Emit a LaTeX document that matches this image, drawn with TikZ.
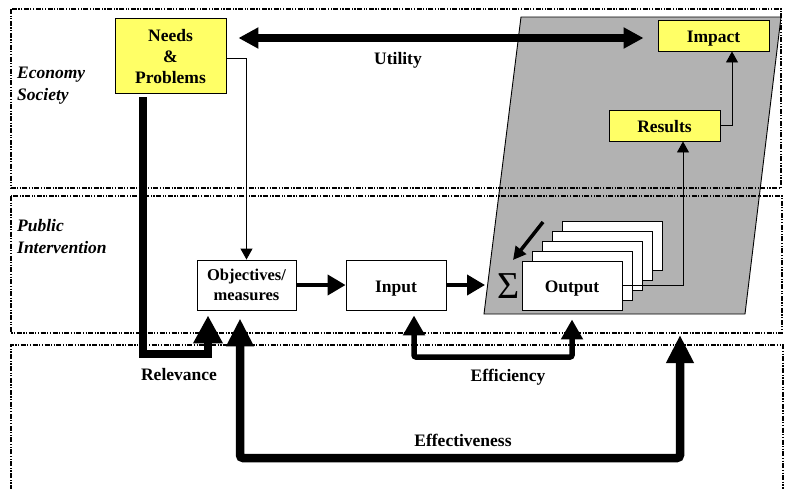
\documentclass[tikz,border=0pt]{standalone}
\usepackage{fontspec}
\setmainfont{Liberation Serif}
\usetikzlibrary{arrows.meta,calc}
\definecolor{yel}{RGB}{255,255,102}
\definecolor{pgray}{RGB}{178,178,178}
\tikzset{
  band/.style={line width=1.2pt, dash pattern=on 5pt off 1.5pt on 1.2pt off 1.5pt on 1.2pt off 1.5pt},
  boxbase/.style={draw, line width=0.9pt, inner sep=0pt, align=center, font=\bfseries\fontsize{17.5}{21}\selectfont},
  ybox/.style={boxbase, fill=yel},
  wbox/.style={boxbase, fill=white},
  oneline/.style={text height=14pt, text depth=0pt},
  lbl/.style={font=\bfseries\fontsize{17.5}{21}\selectfont, inner sep=0pt},
  ilbl/.style={font=\bfseries\itshape\fontsize{17.5}{22}\selectfont, align=left, anchor=west, inner sep=0pt},
  thinarrow/.style={line width=0.9pt, -{Triangle[length=11pt,width=12pt]}},
  midarrow/.style={line width=4pt, -{Triangle[length=18pt,width=20pt]}},
  bigarrow/.style={line width=8pt, -{Triangle[length=28pt,width=28pt]}},
}
\begin{document}
\begin{tikzpicture}[x=1pt,y=-1pt]
\useasboundingbox (0,0) rectangle (790,488);
% gray parallelogram
\draw[fill=pgray, line width=0.9pt] (521,17) -- (781,17) -- (745,314) -- (484,314) -- cycle;
% bands
\draw[band] (11,9) rectangle (781,188);
\draw[band] (11,196) rectangle (782,333);
\draw[band] (11,490) -- (11,345) -- (783,345) -- (783,490);
% band labels
\node[ilbl] (lecon) at (17,85.5) {Economy\\Society};
\node[ilbl] (lpub) at (17,237) {Public\\Intervention};
% nodes
\node[ybox, minimum width=111pt, minimum height=75pt] (needs) at (170.5,55.5) {\strut Needs\\\&\\Problems};
\node[ybox, oneline, minimum width=111pt, minimum height=31pt] (impact) at (713.5,35.5) {Impact};
\node[ybox, oneline, minimum width=111pt, minimum height=31pt] (results) at (664.5,125.5) {Results};
\node[wbox, minimum width=99pt, minimum height=50pt, font=\bfseries\fontsize{16.5}{20}\selectfont] (obj) at (246.5,285) {Objectives/\\measures};
\node[wbox, oneline, minimum width=100pt, minimum height=50pt] (input) at (396,285) {Input};
\node[wbox, minimum width=100pt, minimum height=49pt] (out5) at (612,245.5) {};
\node[wbox, minimum width=100pt, minimum height=49pt] (out4) at (602,255.5) {};
\node[wbox, minimum width=100pt, minimum height=49pt] (out3) at (592,265.5) {};
\node[wbox, minimum width=100pt, minimum height=49pt] (out2) at (582,275.5) {};
\node[wbox, oneline, minimum width=100pt, minimum height=49pt] (out1) at (572,285.5) {Output};
\node[inner sep=0pt, font=\fontsize{38}{38}\selectfont] (sigma) at (509,286) {Σ};
% labels
\node[lbl] (lutil) at (398,60.5) {Utility};
\node[lbl] (lrel) at (179,374.5) {Relevance};
\node[lbl] (leffi) at (508,377.5) {Efficiency};
\node[lbl] (leffe) at (463,440.5) {Effectiveness};
% coordinates
\coordinate (sgA) at (543,222);
\coordinate (sgB) at (513,260);
\coordinate (sgIn) at (485,285);
\coordinate (effR) at (680,335);
\coordinate (effY) at (0,458);
\coordinate (efiY) at (0,357);
% connectors
\draw[line width=8.5pt, {Triangle[length=20pt,width=20pt]}-{Triangle[length=20pt,width=20pt]}]
  ($(needs.east)+(12,-17.5)$) -- ($(impact.west)+(-14,2.5)$);
\draw[thinarrow] ($(needs.east)+(0,2.5)$) -| (obj.north);
\draw[thinarrow] (results.east) -| ($(impact.south)+(18.5,0)$);
\draw[thinarrow] (out1.east) -| ($(results.south)+(18.5,0)$);
\draw[line width=3.5pt, -{Triangle[length=13pt,width=13pt]}] (sgA) -- (sgB);
\draw[midarrow] (obj.east) -- (input.west);
\draw[midarrow] (input.east) -- (sgIn);
\draw[bigarrow, line join=miter] ($(needs.south)+(-27.5,4)$) -- ++(0,256.5) -| ($(obj.south)+(-38.5,5)$);
\draw[line width=8.5pt, rounded corners=3pt, {Triangle[length=28pt,width=26pt]}-{Triangle[length=28pt,width=26pt]}]
  ($(obj.south)+(-6.5,8)$) coordinate (effL) -- (effL |- effY) -- (effR |- effY) -- (effR);
\draw[line width=5.5pt, rounded corners=2pt, {Triangle[length=20pt,width=21pt]}-{Triangle[length=20pt,width=21pt]}]
  ($(input.south)+(18,5)$) coordinate (efiL) -- (efiL |- efiY) -- ($(out1.south |- efiY)$) -- ($(out1.south)+(0,9)$);
\end{tikzpicture}
\end{document}
